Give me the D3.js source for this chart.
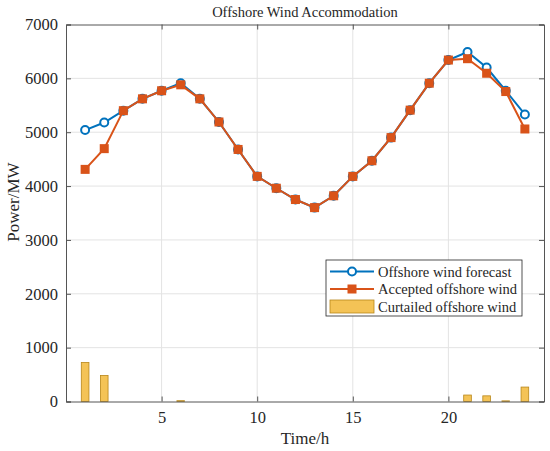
<!DOCTYPE html>
<html>
<head>
<meta charset="utf-8">
<script src="https://cdn.jsdelivr.net/npm/d3@7"></script>
<style>
  body { margin: 0; background: #fff; }
  text { font-family: "Liberation Serif", "Times New Roman", serif; fill: #262626; }
</style>
</head>
<body>
<div id="chart"></div>
<script>
// hours and series
let hours = d3.range(1, 25);
let forecast = [5040, 5180, 5400, 5620, 5770, 5910, 5620, 5190, 4680, 4180, 3960, 3750,
  3600, 3820, 4180, 4470, 4900, 5410, 5910, 6340, 6490, 6200, 5770, 5330];
let accepted = [4310, 4695, 5400, 5620, 5770, 5880, 5620, 5190, 4680, 4180, 3960, 3750,
  3600, 3820, 4180, 4470, 4900, 5410, 5910, 6340, 6365, 6095, 5755, 5060];
let curtailed = [725, 483, 0, 0, 0, 15, 0, 0, 0, 0, 0, 0,
  0, 0, 0, 0, 0, 0, 0, 0, 120, 105, 12, 268];
let xTicks = [5, 10, 15, 20];
let yTicks = [0, 1000, 2000, 3000, 4000, 5000, 6000, 7000];

let svgWidth = 550;
let svgHeight = 451;
let margin = { top: 24.5, right: 6, bottom: 49.5, left: 66 };
let chartWidth = svgWidth - margin.left - margin.right;
let chartHeight = svgHeight - margin.top - margin.bottom;

let blue = "#0072BD";
let orange = "#D95319";
let barFill = "#F4C356";
let barEdge = "#B8871A";
let serif = "'Liberation Serif', 'Times New Roman', serif";

let svg = d3.select("#chart")
  .append("svg")
  .attr("width", svgWidth)
  .attr("height", svgHeight);

let chartGroup = svg.append("g")
  .attr("transform", `translate(${margin.left}, ${margin.top})`);

let xScale = d3.scaleLinear().domain([0, 25]).range([0, chartWidth]);
let yScale = d3.scaleLinear().domain([0, 7000]).range([chartHeight, 0]);

// grid
chartGroup.append("g")
  .selectAll("line")
  .data(xTicks)
  .enter()
  .append("line")
  .attr("x1", d => xScale(d)).attr("x2", d => xScale(d))
  .attr("y1", 0).attr("y2", chartHeight)
  .attr("stroke", "#e3e3e3").attr("stroke-width", 1);

chartGroup.append("g")
  .selectAll("line")
  .data(yTicks.slice(1, -1))
  .enter()
  .append("line")
  .attr("x1", 0).attr("x2", chartWidth)
  .attr("y1", d => yScale(d)).attr("y2", d => yScale(d))
  .attr("stroke", "#e3e3e3").attr("stroke-width", 1);

// curtailed bars (zero ones show as a short edge on the axis)
let barW = xScale(0.4) - xScale(0);
chartGroup.append("g")
  .selectAll("rect")
  .data(hours)
  .enter()
  .append("rect")
  .attr("x", (d) => xScale(d) - barW / 2)
  .attr("y", (d, i) => yScale(curtailed[i]))
  .attr("width", barW)
  .attr("height", (d, i) => yScale(0) - yScale(curtailed[i]))
  .attr("fill", barFill)
  .attr("stroke", barEdge)
  .attr("stroke-width", 0.8);

// lines
let line = d3.line()
  .x((d, i) => xScale(hours[i]))
  .y(d => yScale(d));

chartGroup.append("path")
  .datum(forecast)
  .attr("d", line)
  .attr("fill", "none")
  .attr("stroke", blue)
  .attr("stroke-width", 2);

chartGroup.append("g")
  .selectAll("circle")
  .data(forecast)
  .enter()
  .append("circle")
  .attr("cx", (d, i) => xScale(hours[i]))
  .attr("cy", d => yScale(d))
  .attr("r", 4)
  .attr("fill", "#fff")
  .attr("stroke", blue)
  .attr("stroke-width", 2);

chartGroup.append("path")
  .datum(accepted)
  .attr("d", line)
  .attr("fill", "none")
  .attr("stroke", orange)
  .attr("stroke-width", 2);

chartGroup.append("g")
  .selectAll("rect")
  .data(accepted)
  .enter()
  .append("rect")
  .attr("x", (d, i) => xScale(hours[i]) - 4.5)
  .attr("y", d => yScale(d) - 4.5)
  .attr("width", 9)
  .attr("height", 9)
  .attr("fill", orange);

// axes (box with inward ticks)
let axisColor = "#555";
let xAxis = d3.axisBottom(xScale).tickValues(xTicks).tickSize(-5).tickPadding(10)
  .tickFormat(d3.format("d"));
let yAxis = d3.axisLeft(yScale).tickValues(yTicks).tickSize(-5).tickPadding(8)
  .tickFormat(d3.format("d"));

let gx = chartGroup.append("g")
  .attr("class", "x-axis")
  .attr("transform", `translate(0, ${chartHeight})`)
  .call(xAxis);
let gy = chartGroup.append("g")
  .attr("class", "y-axis")
  .call(yAxis);
chartGroup.append("g")
  .attr("transform", `translate(${chartWidth}, 0)`)
  .call(d3.axisRight(yScale).tickValues(yTicks).tickSize(-5).tickFormat(""));
chartGroup.append("g")
  .call(d3.axisTop(xScale).tickValues(xTicks).tickSize(-5).tickFormat(""));

[gx, gy].forEach(g => g.attr("font-size", 16.5).attr("font-family", serif));
chartGroup.selectAll(".domain, .tick line").attr("stroke", axisColor);
chartGroup.selectAll(".tick text").attr("fill", "#262626");

// labels
svg.append("text")
  .attr("x", margin.left + chartWidth / 2)
  .attr("y", 17)
  .attr("text-anchor", "middle")
  .attr("font-size", 14.5)
  .text("Offshore Wind Accommodation");

svg.append("text")
  .attr("x", margin.left + chartWidth / 2)
  .attr("y", 444)
  .attr("text-anchor", "middle")
  .attr("font-size", 17)
  .text("Time/h");

svg.append("text")
  .attr("transform", "translate(19, 202) rotate(-90)")
  .attr("text-anchor", "middle")
  .attr("font-size", 17)
  .text("Power/MW");

// legend
let legend = svg.append("g").attr("transform", "translate(326, 260)");
legend.append("rect")
  .attr("width", 196).attr("height", 56)
  .attr("fill", "#fff").attr("stroke", "#262626").attr("stroke-width", 0.8);

let items = ["Offshore wind forecast", "Accepted offshore wind", "Curtailed offshore wind"];
legend.selectAll(".lt")
  .data(items)
  .enter()
  .append("text")
  .attr("class", "lt")
  .attr("x", 52)
  .attr("y", (d, i) => 11.5 + i * 17.5)
  .attr("dy", "0.35em")
  .attr("font-size", 14.5)
  .text(d => d);

legend.append("line").attr("x1", 4).attr("x2", 48).attr("y1", 11.5).attr("y2", 11.5)
  .attr("stroke", blue).attr("stroke-width", 2);
legend.append("circle").attr("cx", 26).attr("cy", 11.5).attr("r", 4)
  .attr("fill", "#fff").attr("stroke", blue).attr("stroke-width", 2);
legend.append("line").attr("x1", 4).attr("x2", 48).attr("y1", 29).attr("y2", 29)
  .attr("stroke", orange).attr("stroke-width", 2);
legend.append("rect").attr("x", 21.5).attr("y", 24.5).attr("width", 9).attr("height", 9)
  .attr("fill", orange);
legend.append("rect").attr("x", 4).attr("y", 40).attr("width", 44).attr("height", 13)
  .attr("fill", barFill).attr("stroke", barEdge).attr("stroke-width", 0.8);
</script>
</body>
</html>
